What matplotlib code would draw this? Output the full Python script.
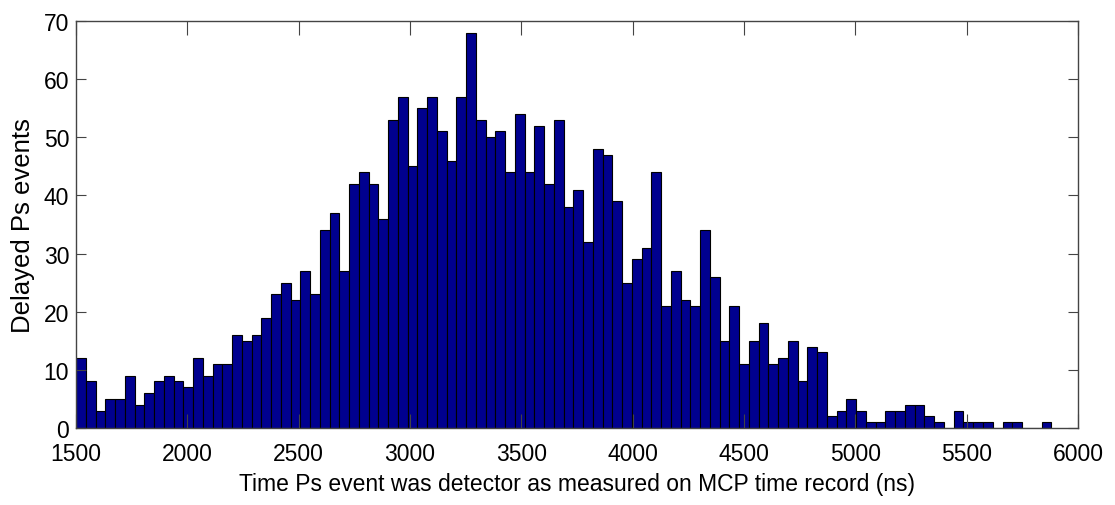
import numpy as np
import matplotlib
matplotlib.use("Agg")
import matplotlib.pyplot as plt
from matplotlib import font_manager

# Histogram of delayed Ps event times: 100 bins starting at 1500 ns
bin_start = 1500.0
bin_width = 43.8
counts = [
    12, 8, 3, 5, 5, 9, 4, 6, 8, 9,
    8, 7, 12, 9, 11, 11, 16, 15, 16, 19,
    23, 25, 22, 27, 23, 34, 37, 27, 42, 44,
    42, 36, 53, 57, 45, 55, 57, 51, 46, 57,
    68, 53, 50, 51, 44, 54, 44, 52, 42, 53,
    38, 41, 32, 48, 47, 39, 25, 29, 31, 44,
    21, 27, 22, 21, 34, 26, 15, 21, 11, 15,
    18, 11, 12, 15, 8, 14, 13, 2, 3, 5,
    3, 1, 1, 3, 3, 4, 4, 2, 1, 0,
    3, 1, 1, 1, 0, 1, 1, 0, 0, 1,
]
x_ticks = [1500, 2000, 2500, 3000, 3500, 4000, 4500, 5000, 5500, 6000]
y_ticks = [0, 10, 20, 30, 40, 50, 60, 70]

available = {f.name for f in font_manager.fontManager.ttflist}
family = "Liberation Sans Narrow" if "Liberation Sans Narrow" in available else "Liberation Sans"
plt.rcParams["font.family"] = [family, "DejaVu Sans"]

edges = bin_start + bin_width * np.arange(len(counts) + 1)

fig = plt.figure(figsize=(11.15, 5.06), dpi=100)
ax = fig.add_axes([0.0682, 0.1522, 0.8986, 0.8043])

ax.hist(edges[:-1], bins=edges, weights=counts,
        color=(0, 0, 0.56), edgecolor="black", linewidth=0.8)

ax.set_xlim(1500, 6000)
ax.set_ylim(0, 70)
ax.set_xticks(x_ticks)
ax.set_yticks(y_ticks)

for side in ax.spines.values():
    side.set_color("#444444")
    side.set_linewidth(1.0)

ax.tick_params(axis="both", direction="in", top=True, right=True,
               labelsize=16.5, colors="#444444", labelcolor="black")
ax.tick_params(axis="x", length=10, pad=10)
ax.tick_params(axis="y", length=7, pad=5)

ax.set_xlabel("Time Ps event was detector as measured on MCP time record (ns)",
              fontsize=16.5, labelpad=5)
ax.set_ylabel("Delayed Ps events", fontsize=18.5, labelpad=6)

fig.savefig("out.png", dpi=100)
